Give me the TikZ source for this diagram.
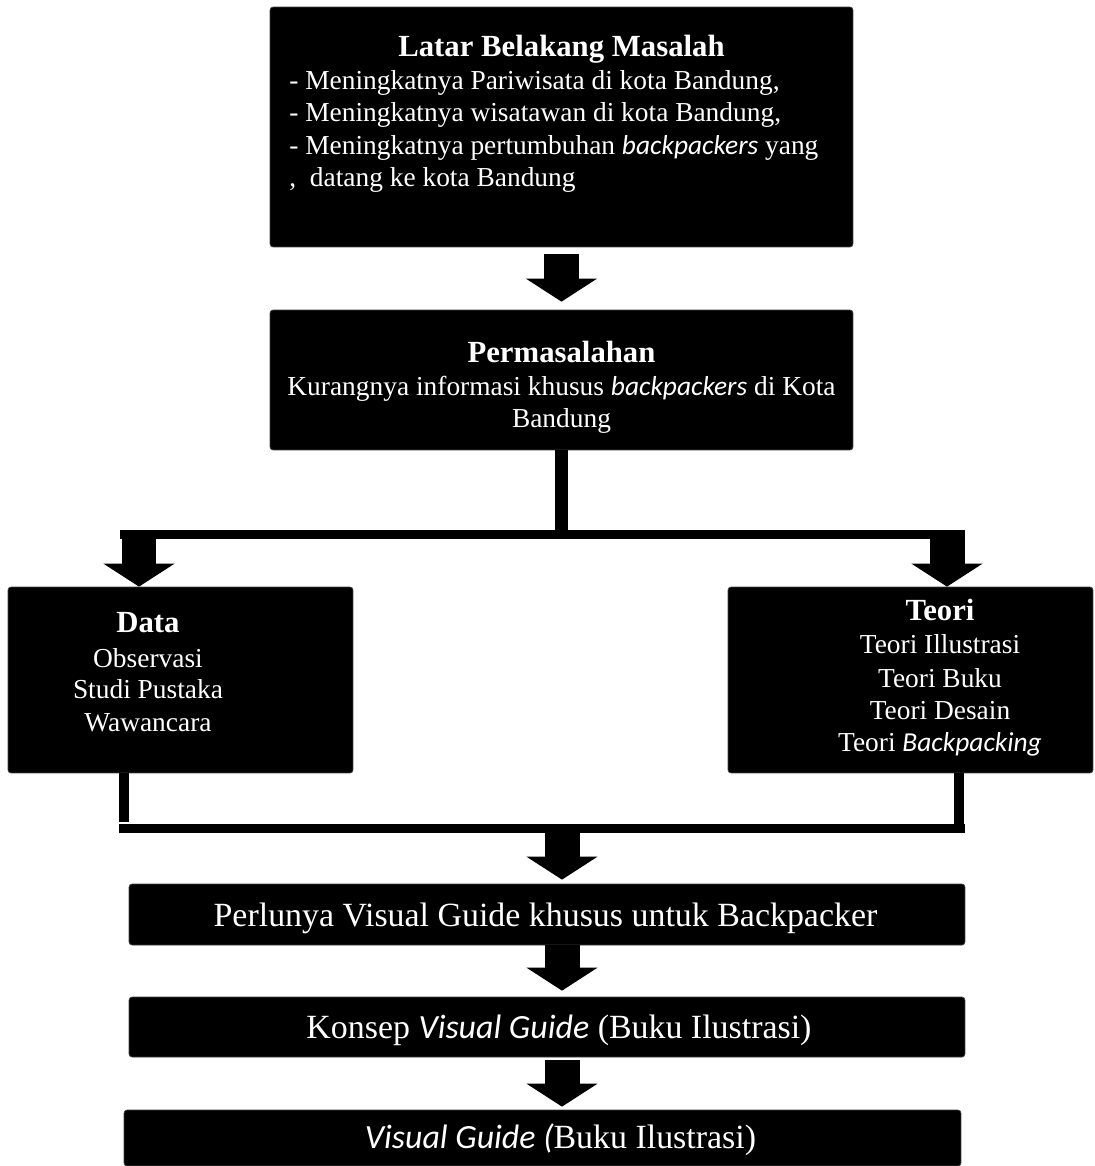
\documentclass[tikz,border=0pt]{standalone}
\usepackage{fontspec}
\setmainfont{Liberation Serif}
\newfontfamily\calit{Carlito}
\usetikzlibrary{arrows.meta,positioning}
\newcommand{\mir}[1]{{\calit\itshape #1}}
\tikzset{
 kotak/.style={fill=black, draw=black!75, rounded corners=0.06cm, inner sep=0pt},
 isi/.style={text=white, inner sep=0pt, font=\fontsize{15.6}{18.7}\selectfont},
 judul/.style={text=white, inner sep=0pt, font=\fontsize{17.5}{20}\selectfont\bfseries},
 besar/.style={text=white, inner sep=0pt, font=\fontsize{19.3}{23}\selectfont},
 panah/.style={line width=0.7cm, -{Triangle[width=1.4cm,length=0.46cm]}},
}
\begin{document}
\begin{tikzpicture}[x=0.02cm,y=-0.02cm]
 \useasboundingbox (0,0) rectangle (1095,1166);
 % kotak
 \node[kotak, minimum width=11.66cm, minimum height=4.8cm] (latar) at (561.5,127) {};
 \node[kotak, minimum width=11.66cm, minimum height=2.8cm] (masalah) at (561.5,380) {};
 \node[kotak, minimum width=6.9cm, minimum height=3.72cm] (data) at (180.5,680) {};
 \node[kotak, minimum width=7.3cm, minimum height=3.72cm] (teori) at (910.5,680) {};
 \node[kotak, minimum width=16.72cm, minimum height=1.22cm] (perlu) at (547,914.5) {};
 \node[kotak, minimum width=16.72cm, minimum height=1.2cm] (konsep) at (547,1027) {};
 \node[kotak, minimum width=16.74cm, minimum height=1.12cm] (guide) at (542.5,1138) {};
 % teks
 \node[judul, anchor=base] (latarJ) at (561.5,57) {Latar Belakang Masalah};
 \node[isi, anchor=base west] (latar1) at (289,90) {- Meningkatnya Pariwisata di kota Bandung,};
 \node[isi, anchor=base west] (latar2) at (289,122) {- Meningkatnya wisatawan di kota Bandung,};
 \node[isi, anchor=base west] (latar3) at (289,154) {- Meningkatnya pertumbuhan \mir{backpackers} yang};
 \node[isi, anchor=base west] (latar4) at (289,186) {,\ \ datang ke kota Bandung};
 \node[judul, anchor=base] (masalahJ) at (561.5,362) {Permasalahan};
 \node[isi, anchor=base] (masalah1) at (561.5,395) {Kurangnya informasi khusus \mir{backpackers} di Kota};
 \node[isi, anchor=base] (masalah2) at (561.5,427) {Bandung};
 \node[judul, anchor=base] (dataJ) at (148,632) {Data};
 \node[isi, anchor=base] (data1) at (148,667) {Observasi};
 \node[isi, anchor=base] (data2) at (148,698) {Studi Pustaka};
 \node[isi, anchor=base] (data3) at (148,731) {Wawancara};
 \node[judul, anchor=base] (teoriJ) at (940,620) {Teori};
 \node[isi, anchor=base] (teori1) at (940,653) {Teori Illustrasi};
 \node[isi, anchor=base] (teori2) at (940,687) {Teori Buku};
 \node[isi, anchor=base] (teori3) at (940,719) {Teori Desain};
 \node[isi, anchor=base] (teori4) at (940,751) {Teori \mir{Backpacking}};
 \node[besar, anchor=base] (perluT) at (545.5,926) {Perlunya Visual Guide khusus untuk Backpacker};
 \node[besar, anchor=base] (konsepT) at (559,1038) {Konsep \mir{Visual Guide} (Buku Ilustrasi)};
 \node[besar, anchor=base] (guideT) at (560.5,1148) {\mir{Visual Guide (}Buku Ilustrasi)};
 % cabang
 \coordinate (kiriA) at (120,534.5);
 \coordinate (kananA) at (965,534.5);
 \coordinate (ka) at (139,539);
 \coordinate (kb) at (947,539);
 \coordinate (kc) at (124,822);
 \coordinate (kd) at (959,833);
 \coordinate (kiriB) at (119,828.5);
 \coordinate (kananB) at (965,828.5);
 \coordinate (ke) at (562,833);
 % panah
 \draw[panah, shorten <=0.14cm, shorten >=0.16cm] (latar.south) -- (masalah.north);
 \draw[line width=0.26cm] (masalah.south) -- (masalah.south |- kiriA);
 \draw[line width=0.18cm] (kiriA) -- (kananA);
 \draw[panah] (ka) -- (ka |- data.north);
 \draw[panah] (kb) -- (kb |- teori.north);
 \draw[line width=0.2cm] (data.south -| kc) -- (kc);
 \draw[line width=0.2cm] (teori.south -| kd) -- (kd);
 \draw[line width=0.18cm] (kiriB) -- (kananB);
 \draw[panah, shorten >=0.08cm] (ke) -- (ke |- perlu.north);
 \draw[panah, shorten >=0.12cm] (perlu.south -| ke) -- (konsep.north -| ke);
 \draw[panah, shorten <=0.06cm, shorten >=0.06cm] (konsep.south -| ke) -- (guide.north -| ke);
\end{tikzpicture}
\end{document}
